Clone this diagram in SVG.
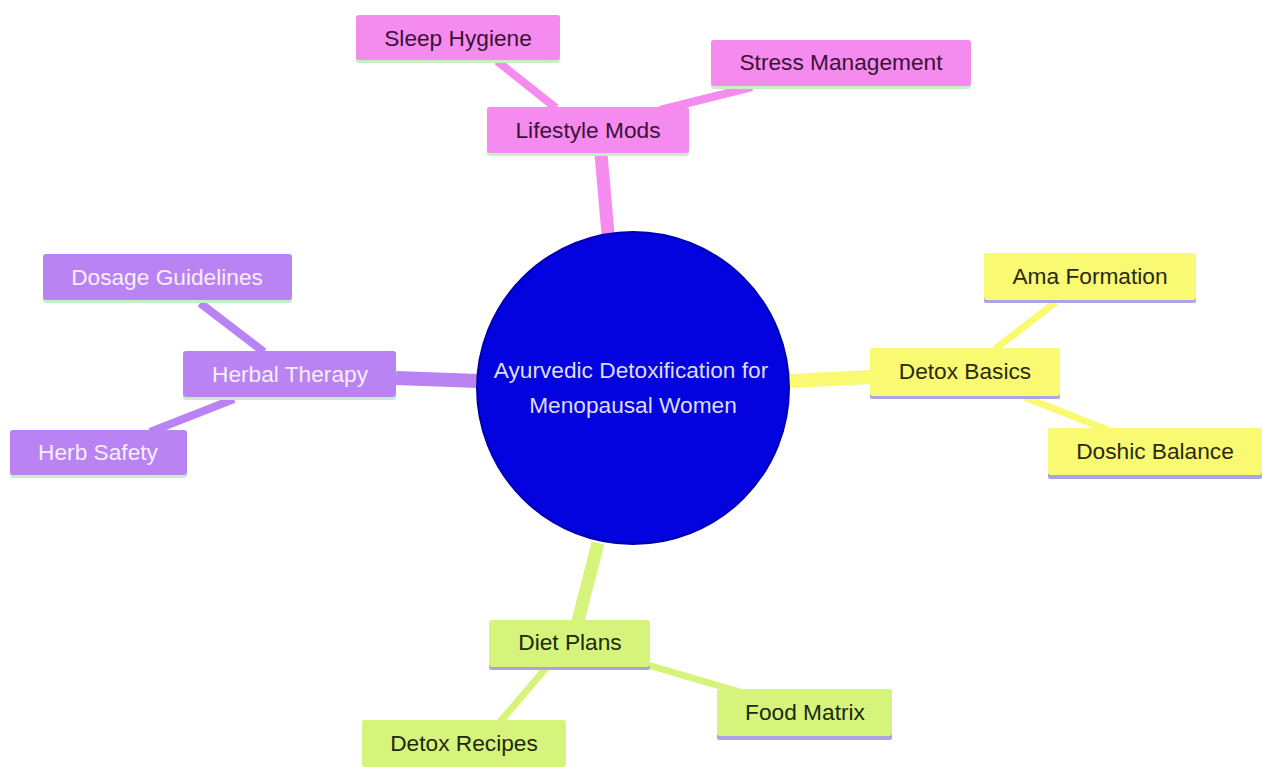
<svg xmlns="http://www.w3.org/2000/svg" width="1262" height="767" viewBox="0 0 1262 767">
<style>
text{font-family:"Liberation Sans",Arial,sans-serif;font-size:22.7px;text-anchor:middle;dominant-baseline:central}
.pk{fill:#f58bef}.pu{fill:#b983f3}.ye{fill:#f9f972}.gr{fill:#d6f47c}
.bg{fill:#c6f0c2}.bl{fill:#aaa4e2}
.tpk{fill:#3a1236}.tpu{fill:#f6eefc}.tye{fill:#2a2a14}.tgr{fill:#1c2a0c}
.e{fill:none;stroke-linecap:butt}
.epk{stroke:#f58bef}.epu{stroke:#b983f3}.eye{stroke:#f9f972}.egr{stroke:#d6f47c}
</style>
<rect width="1262" height="767" fill="#ffffff"/>
<g id="connectors">
<line class="e epk" x1="601" y1="154" x2="608" y2="234" stroke-width="13"/>
<line class="e epk" x1="497" y1="61" x2="556" y2="108" stroke-width="8"/>
<line class="e epk" x1="752" y1="87" x2="660" y2="110" stroke-width="8"/>
<line class="e epu" x1="396" y1="378" x2="478" y2="381" stroke-width="14"/>
<line class="e epu" x1="200" y1="303" x2="264" y2="352" stroke-width="8"/>
<line class="e epu" x1="234" y1="399" x2="150" y2="432" stroke-width="8"/>
<line class="e eye" x1="789" y1="381" x2="871" y2="377" stroke-width="14"/>
<line class="e eye" x1="995" y1="349" x2="1056" y2="302" stroke-width="7"/>
<line class="e eye" x1="1024" y1="397" x2="1108" y2="430" stroke-width="7"/>
<line class="e egr" x1="598" y1="543" x2="578" y2="621" stroke-width="13"/>
<line class="e egr" x1="546" y1="668" x2="500" y2="722" stroke-width="7"/>
<line class="e egr" x1="648" y1="665" x2="740" y2="692" stroke-width="7"/>
</g>
<g id="root">
<circle cx="633" cy="388" r="156" fill="#0303df" stroke="#0000b0" stroke-width="2"/>
<text x="631" y="370" fill="#dedcf6">Ayurvedic Detoxification for</text>
<text x="633" y="405" fill="#dedcf6">Menopausal Women</text>
</g>
<g id="lifestyle-mods">
<rect class="bg" x="487" y="108" width="202" height="48" rx="3"/>
<rect class="pk" x="487" y="107" width="202" height="46" rx="3"/>
<text class="tpk" x="588" y="130">Lifestyle Mods</text>
</g>
<g id="sleep-hygiene">
<rect class="bg" x="356" y="16" width="204" height="47" rx="3"/>
<rect class="pk" x="356" y="15" width="204" height="45" rx="3"/>
<text class="tpk" x="458" y="38">Sleep Hygiene</text>
</g>
<g id="stress-management">
<rect class="bg" x="711" y="41" width="260" height="48" rx="3"/>
<rect class="pk" x="711" y="40" width="260" height="46" rx="3"/>
<text class="tpk" x="841" y="62">Stress Management</text>
</g>
<g id="herbal-therapy">
<rect class="bg" x="183" y="352" width="213" height="48" rx="3"/>
<rect class="pu" x="183" y="351" width="213" height="46" rx="3"/>
<text class="tpu" x="290" y="374">Herbal Therapy</text>
</g>
<g id="dosage-guidelines">
<rect class="bg" x="43" y="255" width="249" height="48" rx="3"/>
<rect class="pu" x="43" y="254" width="249" height="46" rx="3"/>
<text class="tpu" x="167" y="277">Dosage Guidelines</text>
</g>
<g id="herb-safety">
<rect class="bg" x="10" y="431" width="177" height="47" rx="3"/>
<rect class="pu" x="10" y="430" width="177" height="45" rx="3"/>
<text class="tpu" x="98" y="452">Herb Safety</text>
</g>
<g id="detox-basics">
<rect class="bl" x="870" y="349" width="190" height="50" rx="2"/>
<rect class="ye" x="870" y="348" width="190" height="48" rx="3"/>
<text class="tye" x="965" y="371">Detox Basics</text>
</g>
<g id="ama-formation">
<rect class="bl" x="984" y="254" width="212" height="49" rx="2"/>
<rect class="ye" x="984" y="253" width="212" height="47" rx="3"/>
<text class="tye" x="1090" y="276">Ama Formation</text>
</g>
<g id="doshic-balance">
<rect class="bl" x="1048" y="429" width="214" height="50" rx="2"/>
<rect class="ye" x="1048" y="428" width="214" height="47" rx="3"/>
<text class="tye" x="1155" y="451">Doshic Balance</text>
</g>
<g id="diet-plans">
<rect class="bl" x="489" y="621" width="161" height="49" rx="2"/>
<rect class="gr" x="489" y="620" width="161" height="47" rx="3"/>
<text class="tgr" x="570" y="642">Diet Plans</text>
</g>
<g id="detox-recipes">
<rect class="gr" x="362" y="720" width="204" height="47" rx="3"/>
<text class="tgr" x="464" y="743">Detox Recipes</text>
</g>
<g id="food-matrix">
<rect class="bl" x="717" y="690" width="175" height="50" rx="2"/>
<rect class="gr" x="717" y="689" width="175" height="47" rx="3"/>
<text class="tgr" x="805" y="712">Food Matrix</text>
</g>
</svg>
